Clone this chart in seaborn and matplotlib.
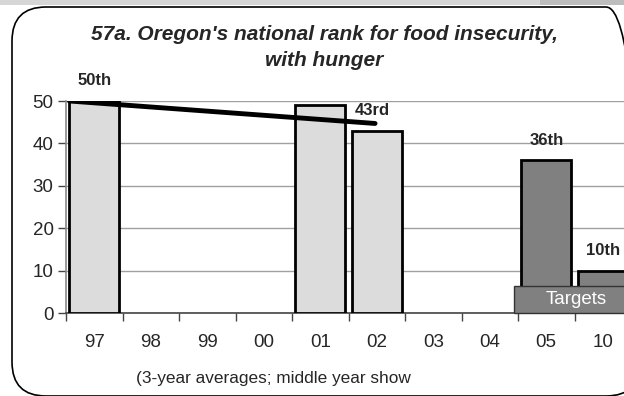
import matplotlib
matplotlib.use('Agg')
import matplotlib.pyplot as plt
import matplotlib.patches as mpatches
import numpy as np
import pandas as pd
import seaborn as sns

# data
years = ['97', '98', '99', '00', '01', '02', '03', '04', '05', '10']
ranks = [50, np.nan, np.nan, np.nan, 49, 43, np.nan, np.nan, 36, 10]
is_target = [False] * 8 + [True, True]
bar_labels = {'97': '50th', '02': '43rd', '05': '36th', '10': '10th'}
trend_x = [-0.44, 4.97]
trend_y = [50, 44.7]
targets_height = 6.4

sns.set_style('white')
plt.rcParams['font.family'] = ['Liberation Sans', 'DejaVu Sans']
plt.rcParams['xtick.bottom'] = True
plt.rcParams['ytick.left'] = True

W, H = 624, 396
fig = plt.figure(figsize=(W / 100, H / 100), dpi=100)

# outer frame like the source slide
fig.patches.append(mpatches.Rectangle((0, (H - 5) / H), 1, 5 / H, transform=fig.transFigure,
                                      facecolor='#d6d6d6', edgecolor='none'))
fig.patches.append(mpatches.Rectangle((540 / W, (H - 5) / H), 1, 5 / H, transform=fig.transFigure,
                                      facecolor='#bdbdbd', edgecolor='none'))
fig.patches.append(mpatches.FancyBboxPatch((12, 0), 628, H - 7, boxstyle='round,pad=0,rounding_size=34',
                                           transform=None, facecolor='none', edgecolor='black', linewidth=1.2))

ax = fig.add_axes([66 / W, 83 / H, 565 / W, 212 / H])
ax.patch.set_alpha(0)

df = pd.DataFrame({'year': years, 'rank': ranks,
                   'kind': ['Target' if t else 'Actual' for t in is_target]})
sns.barplot(data=df, x='year', y='rank', hue='kind', order=years, dodge=False,
            palette={'Actual': '#dcdcdc', 'Target': '#808080'},
            edgecolor='black', linewidth=2, width=0.88, legend=False, ax=ax, zorder=3)

ax.plot(trend_x, trend_y, color='black', linewidth=3.5, solid_capstyle='round', zorder=5)

for i, y in enumerate(years):
    if y in bar_labels:
        v = df.loc[i, 'rank']
        dx = -0.08 if y == '02' else 0.0
        ax.text(i + dx, v + 4.8, bar_labels[y], ha='center', va='center',
                fontsize=12, fontweight='bold', zorder=6, clip_on=False)

# targets box
ax.add_patch(mpatches.Rectangle((7.43, 0), 3, targets_height, facecolor='#808080',
                                edgecolor='#333333', linewidth=1, zorder=4, clip_on=False))
ax.text(8.53, targets_height / 2, 'Targets', color='white', fontsize=13.5,
        ha='center', va='center', zorder=6)

ax.set_xlim(-0.5, 9.5)
ax.set_ylim(0, 50)
ax.set_yticks([0, 10, 20, 30, 40, 50])
ax.yaxis.grid(True, color='#a0a0a0', linewidth=1)
ax.set_axisbelow(True)
ax.set_xticks(range(len(years)))
ax.set_xticklabels(years)
ax.set_xticks(np.arange(-0.5, 9.5, 1), minor=True)
ax.tick_params(axis='x', which='major', length=0, pad=15, labelsize=13.5)
ax.tick_params(axis='x', which='minor', bottom=True, length=6, width=1, color='#444444')
ax.tick_params(axis='y', left=True, length=6, width=1, color='#444444', labelsize=13.5, pad=3)
ax.set_xlabel('')
ax.set_ylabel('')
for s in ['top', 'right']:
    ax.spines[s].set_visible(False)
ax.spines['left'].set_color('#888888')
ax.spines['bottom'].set_color('#444444')
ax.spines['left'].set_linewidth(1.2)
ax.spines['bottom'].set_linewidth(1.2)

fig.text(324 / W, 1 - 35 / H, "57a. Oregon's national rank for food insecurity,", ha='center', va='center',
         fontsize=15, fontweight='bold', fontstyle='italic')
fig.text(324 / W, 1 - 60 / H, 'with hunger', ha='center', va='center',
         fontsize=15, fontweight='bold', fontstyle='italic')

xl = fig.text(136 / W, 1 - 378 / H, '(3-year averages; middle year shown)', ha='left', va='center', fontsize=12.4)
clip = mpatches.Rectangle((0, 0), 411, H, transform=None)
xl.set_clip_path(clip)

fig.savefig('out.png', dpi=100)
